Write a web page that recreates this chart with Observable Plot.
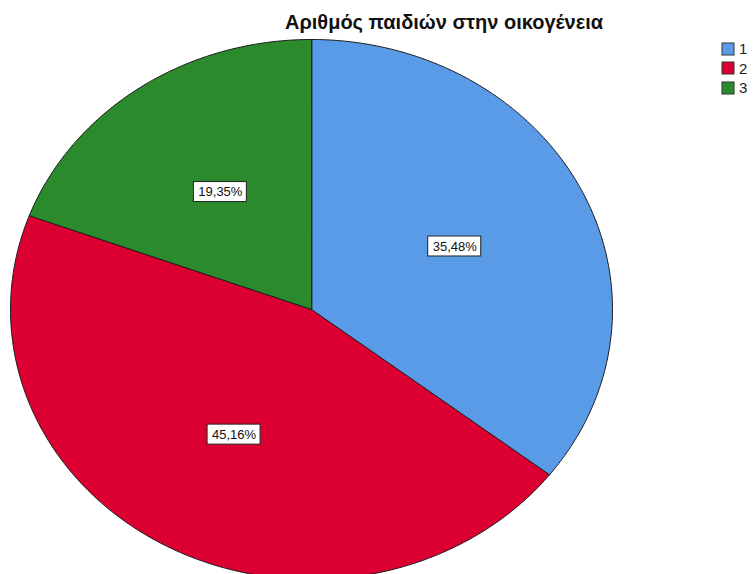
<!DOCTYPE html>
<html>
<head>
<meta charset="utf-8">
<script src="https://cdn.jsdelivr.net/npm/d3@7"></script>
<script src="https://cdn.jsdelivr.net/npm/@observablehq/plot@0.6"></script>
<style>
  html, body { margin: 0; padding: 0; background: #fff; }
  #wrap { position: relative; width: 755px; height: 574px; overflow: hidden; }
  #legend { position: absolute; left: 722px; top: 39px; }
  .lg-swatch { height: 19.5px; display: flex; align-items: center; padding-bottom: 0 !important; font-size: 15px !important; }
  .lg-swatch svg { overflow: visible; margin-right: 5px !important; }
  .lg-swatch svg rect { stroke: #333; stroke-width: 1px; }
</style>
</head>
<body>
<div id="wrap"><div id="legend"></div></div>
<script>
// ---- data ----
const title = "Αριθμός παιδιών στην οικογένεια";
const categories = ["1", "2", "3"];
const counts = [11, 14, 6];
const colors = ["#5a9be8", "#dc0032", "#2b8a2b"];

const total = d3.sum(counts);
const arcs = d3.pie().sort(null).value(d => d.count)(
  categories.map((c, i) => ({category: c, count: counts[i]}))
);

// slice outlines in unit-circle coordinates (y up), clockwise from 12 o'clock
const slicePoints = [];
for (const a of arcs) {
  const cat = a.data.category;
  slicePoints.push({category: cat, x: 0, y: 0});
  const n = Math.max(2, Math.ceil((a.endAngle - a.startAngle) / (Math.PI / 360)));
  for (let k = 0; k <= n; k++) {
    const t = a.startAngle + (a.endAngle - a.startAngle) * k / n;
    slicePoints.push({category: cat, x: Math.sin(t), y: Math.cos(t)});
  }
}

const labelR = 0.53;
const labels = arcs.map(a => {
  const m = (a.startAngle + a.endAngle) / 2;
  return {
    category: a.data.category,
    x: labelR * Math.sin(m),
    y: labelR * Math.cos(m),
    text: (a.data.count / total * 100).toFixed(2).replace(".", ",") + "%"
  };
});

const font = "'Liberation Sans', Arial, sans-serif";

const plot = Plot.plot({
  width: 755,
  height: 574,
  margin: 0,
  style: {fontFamily: font, background: "white"},
  x: {domain: [-1, 1], range: [10, 612], axis: null},
  y: {domain: [-1, 1], range: [579, 39], axis: null},
  color: {domain: categories, range: colors},
  marks: [
    Plot.line(slicePoints, {
      x: "x", y: "y", z: "category", fill: "category",
      stroke: "#1a1a1a", strokeWidth: 1, curve: "linear-closed"
    }),
    Plot.rect(labels, {
      x1: "x", x2: "x", y1: "y", y2: "y",
      insetLeft: -26.5, insetRight: -26.5, insetTop: -10, insetBottom: -10,
      fill: "white", stroke: "#222", strokeWidth: 1
    }),
    Plot.text(labels, {
      x: "x", y: "y", text: "text", fontSize: 13, fill: "#111"
    }),
    Plot.text([title], {
      text: d => d, frameAnchor: "top", dx: 66, dy: 28, lineAnchor: "bottom",
      fontSize: 20, fontWeight: "bold", fill: "#111"
    })
  ]
});
document.getElementById("wrap").prepend(plot);

const legend = Plot.legend({
  color: {domain: categories, range: colors},
  legend: "swatches",
  columns: 1,
  swatchSize: 12,
  className: "lg",
  style: {fontSize: "15px", fontFamily: font, color: "#222"}
});
document.getElementById("legend").appendChild(legend);
</script>
</body>
</html>
